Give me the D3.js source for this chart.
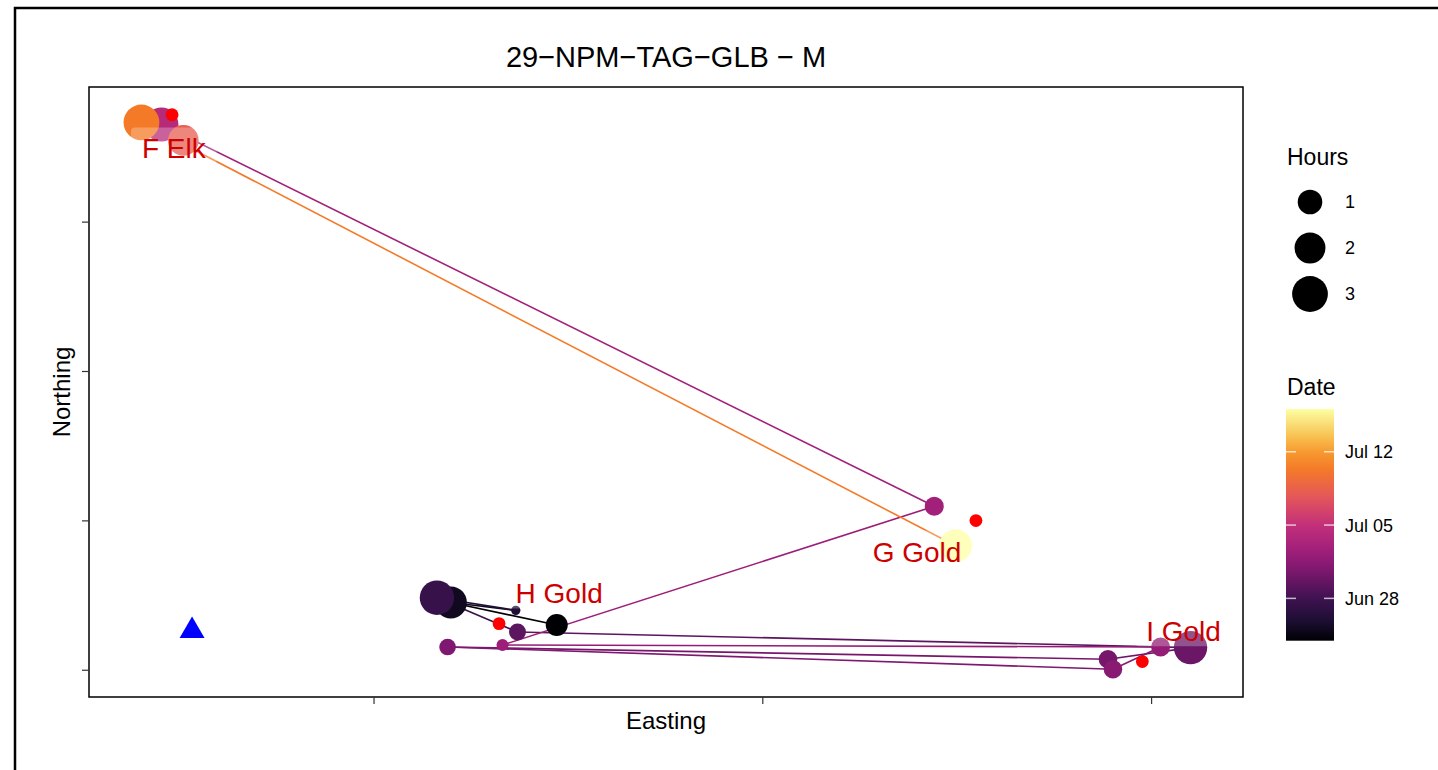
<!DOCTYPE html>
<html>
<head>
<meta charset="utf-8">
<script src="https://cdn.jsdelivr.net/npm/d3@7"></script>
<style>
body { margin: 0; background: #fff; }
text { font-family: "Liberation Sans", Arial, sans-serif; }
</style>
</head>
<body>
<svg id="chart" width="1438" height="770"></svg>
<script>
// track fixes, in time order
var fixTime = ["2021-06-23 23:00", "2021-06-25 01:00", "2021-06-26 04:00", "2021-06-27 12:00",
  "2021-06-29 06:00", "2021-06-29 22:00", "2021-06-30 09:00", "2021-06-30 19:00",
  "2021-07-01 06:00", "2021-07-01 22:00", "2021-07-02 09:00", "2021-07-02 19:00",
  "2021-07-04 03:00", "2021-07-08 03:00", "2021-07-10 08:00", "2021-07-16 02:00"];
var fixEasting = [735.0, 598.8, 682.3, 580.9, 684.5, 1550.1, 1443.9, 594.6,
  1450.3, 1511.6, 665.2, 1220.5, 226.6, 254.8, 200.9, 1248.0];
var fixNorthing = [260.5, 290.8, 280.2, 297.1, 251.2, 230.3, 214.7, 231.1,
  201.3, 231.1, 233.8, 419.5, 930.8, 909.4, 933.5, 366.6];
var fixHours = [0.69, 2.20, 0.00, 2.69, 0.25, 2.48, 0.37, 0.23,
  0.37, 0.40, 0.03, 0.40, 2.61, 1.94, 3.00, 2.32];

// receiver sites
var siteName = ["F Elk", "G Gold", "H Gold", "I Gold"];
var siteEasting = [240.3, 1274.1, 660.8, 1488.1];
var siteNorthing = [943.8, 400.4, 262.4, 211.6];
var labelEasting = [242.6, 1198.3, 738.1, 1541.1];
var labelNorthing = [898.7, 359.0, 302.9, 252.1];

// release point
var releaseEasting = [266.0];
var releaseNorthing = [252.8];

var xTicks = [500, 1000, 1500];
var yTicks = [200, 400, 600, 800];
var hourBreaks = [1, 2, 3];
var dateBreaks = ["2021-06-28", "2021-07-05", "2021-07-12"];

// colour ramp
var rampAt = [0, 0.08, 0.18, 0.31, 0.39, 0.5, 0.625, 0.74, 0.815, 0.88, 1];
var rampCol = ["#000004", "#1a0e30", "#3e1250", "#801870", "#a01f7a", "#c3307a",
  "#e55858", "#f47a28", "#f79a30", "#f8c050", "#fcffa4"];

var svg = d3.select("#chart");
var L = 89, T = 87, R = 1243, B = 697;

var parseT = d3.timeParse("%Y-%m-%d %H:%M");
var parseD = d3.timeParse("%Y-%m-%d");
var fixes = fixTime.map(function(t, i) {
  return {date: parseT(t), e: fixEasting[i], n: fixNorthing[i], h: fixHours[i]};
});

// ggplot style 5% expansion
var allE = fixEasting.concat(siteEasting, releaseEasting);
var allN = fixNorthing.concat(siteNorthing, releaseNorthing);
function expand(ext) {
  var d = (ext[1] - ext[0]) * 0.05;
  return [ext[0] - d, ext[1] + d];
}
var x = d3.scaleLinear().domain(expand(d3.extent(allE))).range([L, R]);
var y = d3.scaleLinear().domain(expand(d3.extent(allN))).range([B, T]);

var dateExt = d3.extent(fixes, d => d.date);
var tScale = d3.scaleTime().domain(dateExt).range([0, 1]);
var ramp = d3.scaleLinear().domain(rampAt).range(rampCol).interpolate(d3.interpolateRgb);
var colour = d => ramp(tScale(d));
var size = d3.scaleSqrt().domain(d3.extent(fixHours)).range([4.65, 17.9]);

// outer frame
svg.append("rect").attr("x", 15).attr("y", 8).attr("width", 1600).attr("height", 900)
  .attr("fill", "none").attr("stroke", "#000").attr("stroke-width", 2.5);

svg.append("text").attr("x", (L + R) / 2).attr("y", 67).attr("text-anchor", "middle")
  .style("font-size", "29px").text("29\u2212NPM\u2212TAG\u2212GLB \u2212 M");

// path segments, coloured by the start fix
for (var i = 0; i < fixes.length - 1; i++) {
  svg.append("line")
    .attr("x1", x(fixes[i].e)).attr("y1", y(fixes[i].n))
    .attr("x2", x(fixes[i + 1].e)).attr("y2", y(fixes[i + 1].n))
    .attr("stroke", colour(fixes[i].date)).attr("stroke-width", 1.6);
}

svg.append("g").selectAll("circle").data(fixes).join("circle")
  .attr("cx", d => x(d.e)).attr("cy", d => y(d.n)).attr("r", d => size(d.h))
  .attr("fill", d => colour(d.date));

svg.append("g").selectAll("circle").data(siteEasting).join("circle")
  .attr("cx", d => x(d)).attr("cy", (d, i) => y(siteNorthing[i])).attr("r", 6.4)
  .attr("fill", "#ff0000");

svg.append("path").attr("d", d3.symbol(d3.symbolTriangle, 270)())
  .attr("transform", "translate(" + x(releaseEasting[0]) + "," + y(releaseNorthing[0]) + ")")
  .attr("fill", "#0000ff");

// labels with a faint box
siteName.forEach(function(name, i) {
  var g = svg.append("g");
  var cx = x(labelEasting[i]), cy = y(labelNorthing[i]);
  var box = g.append("rect");
  var t = g.append("text").attr("x", cx).attr("y", cy).attr("dy", "0.36em")
    .attr("text-anchor", "middle").attr("fill", "#cd0000").style("font-size", "28px").text(name);
  var w = t.node().getComputedTextLength();
  box.attr("x", cx - w / 2 - 11).attr("y", cy - 21).attr("width", w + 22).attr("height", 36)
    .attr("rx", 4).attr("fill", "#fff").attr("fill-opacity", 0.26);
});

svg.append("rect").attr("x", L).attr("y", T).attr("width", R - L).attr("height", B - T)
  .attr("fill", "none").attr("stroke", "#000").attr("stroke-width", 1.5);

svg.append("g").selectAll("line").data(xTicks).join("line")
  .attr("x1", d => x(d)).attr("x2", d => x(d)).attr("y1", B).attr("y2", B + 7)
  .attr("stroke", "#333").attr("stroke-width", 1.2);
svg.append("g").selectAll("line").data(yTicks).join("line")
  .attr("y1", d => y(d)).attr("y2", d => y(d)).attr("x1", L - 7).attr("x2", L)
  .attr("stroke", "#333").attr("stroke-width", 1.2);

svg.append("text").attr("x", (L + R) / 2).attr("y", 729).attr("text-anchor", "middle")
  .style("font-size", "24px").text("Easting");
svg.append("text").attr("transform", "translate(70," + (T + B) / 2 + ") rotate(-90)")
  .attr("text-anchor", "middle").style("font-size", "24px").text("Northing");

// legend: hours
svg.append("text").attr("x", 1287).attr("y", 165).style("font-size", "23px").text("Hours");
var hy = d3.scalePoint().domain(hourBreaks).range([202, 294]);
svg.append("g").selectAll("circle").data(hourBreaks).join("circle")
  .attr("cx", 1310).attr("cy", d => hy(d)).attr("r", d => size(d)).attr("fill", "#000");
svg.append("g").selectAll("text").data(hourBreaks).join("text")
  .attr("x", 1345).attr("y", d => hy(d)).attr("dy", "0.36em").style("font-size", "18px")
  .text(d => d);

// legend: date
svg.append("text").attr("x", 1287).attr("y", 395).style("font-size", "23px").text("Date");
var grad = svg.append("defs").append("linearGradient").attr("id", "dategrad")
  .attr("x1", 0).attr("y1", 1).attr("x2", 0).attr("y2", 0);
grad.selectAll("stop").data(rampAt).join("stop")
  .attr("offset", d => d).attr("stop-color", (d, i) => rampCol[i]);
var by = d3.scaleTime().domain(dateExt).range([640.7, 409]);
svg.append("rect").attr("x", 1286).attr("y", by.range()[1]).attr("width", 48)
  .attr("height", by.range()[0] - by.range()[1]).attr("fill", "url(#dategrad)");
var dTicks = dateBreaks.map(parseD);
var tk = svg.append("g").selectAll("g").data(dTicks).join("g");
tk.append("line").attr("x1", 1286).attr("x2", 1296).attr("y1", d => by(d)).attr("y2", d => by(d))
  .attr("stroke", "#fff").attr("stroke-opacity", 0.7).attr("stroke-width", 1.5);
tk.append("line").attr("x1", 1324).attr("x2", 1334).attr("y1", d => by(d)).attr("y2", d => by(d))
  .attr("stroke", "#fff").attr("stroke-opacity", 0.7).attr("stroke-width", 1.5);
tk.append("text").attr("x", 1345).attr("y", d => by(d)).attr("dy", "0.36em")
  .style("font-size", "18px").text(d3.timeFormat("%b %d"));
</script>
</body>
</html>
